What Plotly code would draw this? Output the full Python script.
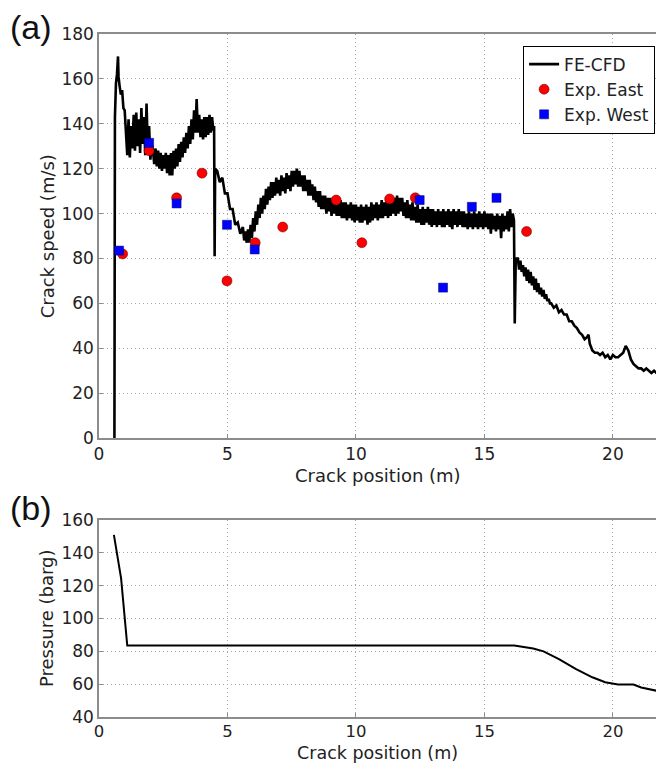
import plotly.graph_objects as go

# ---------------- data ----------------
# FE-CFD crack speed, crack position (m)
fe_x = ([0.60, 0.62, 0.66, 0.70, 0.74, 0.76, 0.80, 0.85, 0.90, 0.95, 1.00,
         1.05, 1.10, 1.15, 1.20, 1.25, 1.30, 1.35, 1.40, 1.45, 1.50,
         1.55, 1.60, 1.65, 1.70, 1.75, 1.80, 1.85, 1.90, 1.95, 2.00]
        + [2.05, 2.10, 2.15, 2.20, 2.25, 2.30, 2.35, 2.40, 2.45, 2.50,
           2.55, 2.60, 2.65, 2.70, 2.75, 2.80, 2.85, 2.90, 2.95, 3.00,
           3.05, 3.10, 3.15, 3.20, 3.25, 3.30, 3.35, 3.40, 3.45, 3.50,
           3.55, 3.60, 3.65, 3.70, 3.75, 3.80, 3.85, 3.90, 3.95, 4.00,
           4.05, 4.10, 4.15, 4.20, 4.25, 4.30, 4.35, 4.40, 4.45]
        + [4.48, 4.50, 4.52, 4.6, 4.7, 4.8, 4.9, 5.0, 5.1, 5.2, 5.3, 5.4, 5.5]
        + [5.60, 5.65, 5.70, 5.75, 5.80, 5.85, 5.90, 5.95, 6.00, 6.05,
           6.10, 6.15, 6.20, 6.25, 6.30, 6.35, 6.40, 6.45, 6.50, 6.55,
           6.60, 6.65, 6.70, 6.75, 6.80, 6.85, 6.90, 6.95, 7.00, 7.05,
           7.10, 7.15, 7.20, 7.25, 7.30, 7.35, 7.40, 7.45, 7.50, 7.55,
           7.60, 7.65, 7.70, 7.75, 7.80, 7.85, 7.90, 7.95, 8.00, 8.05,
           8.10, 8.15, 8.20, 8.25, 8.30, 8.35, 8.40, 8.45, 8.50, 8.55,
           8.60, 8.65, 8.70, 8.75, 8.80, 8.85, 8.90, 8.95, 9.00, 9.05,
           9.10, 9.15, 9.20, 9.25, 9.30, 9.35, 9.40, 9.45, 9.50, 9.55,
           9.60, 9.65, 9.70, 9.75, 9.80, 9.85, 9.90, 9.95, 10.00, 10.05,
           10.10, 10.15, 10.20, 10.25, 10.30, 10.35, 10.40, 10.45, 10.50, 10.55,
           10.60, 10.65, 10.70, 10.75, 10.80, 10.85, 10.90, 10.95, 11.00, 11.05,
           11.10, 11.15, 11.20, 11.25, 11.30, 11.35, 11.40, 11.45, 11.50, 11.55,
           11.60, 11.65, 11.70, 11.75, 11.80, 11.85, 11.90, 11.95, 12.00, 12.05,
           12.10, 12.15, 12.20, 12.25, 12.30, 12.35, 12.40, 12.45, 12.50, 12.55,
           12.60, 12.65, 12.70, 12.75, 12.80, 12.85, 12.90, 12.95, 13.00, 13.05,
           13.10, 13.15, 13.20, 13.25, 13.30, 13.35, 13.40, 13.45, 13.50, 13.55,
           13.60, 13.65, 13.70, 13.75, 13.80, 13.85, 13.90, 13.95, 14.00, 14.05,
           14.10, 14.15, 14.20, 14.25, 14.30, 14.35, 14.40, 14.45, 14.50, 14.55,
           14.60, 14.65, 14.70, 14.75, 14.80, 14.85, 14.90, 14.95, 15.00, 15.05,
           15.10, 15.15, 15.20, 15.25, 15.30, 15.35, 15.40, 15.45, 15.50, 15.55,
           15.60, 15.65, 15.70, 15.75, 15.80, 15.85, 15.90, 15.95, 16.00, 16.05,
           16.10, 16.15, 16.18, 16.22]
        + [16.30, 16.35, 16.40, 16.45, 16.50, 16.55, 16.60, 16.65, 16.70, 16.75,
           16.80, 16.85, 16.90, 16.95, 17.00, 17.05, 17.10, 17.15, 17.20, 17.25,
           17.30, 17.35, 17.40, 17.45, 17.50, 17.55]
        + [17.6, 17.7, 17.8, 17.9, 18.0, 18.1, 18.2, 18.3, 18.4, 18.5,
           18.6, 18.7, 18.8, 18.9, 19.0, 19.05, 19.1, 19.2, 19.3, 19.4, 19.5,
           19.6, 19.7, 19.8, 19.9, 20.0, 20.1, 20.2, 20.3, 20.4, 20.5,
           20.6, 20.7, 20.8, 20.9, 21.0, 21.1, 21.2, 21.3, 21.4, 21.5,
           21.6, 21.7, 21.8])
# FE-CFD crack speed (m/s)
fe_speed = ([0, 143, 158, 162, 170, 161, 157, 153, 155, 147, 146,
             138, 126, 142, 125, 139, 129, 144, 128, 145, 130,
             142, 127, 147, 131, 143, 126, 149, 129, 139, 124]
            + [131, 128, 122, 129, 121, 128, 120, 127, 119, 126,
               120, 127, 118, 126, 117, 127, 117, 128, 120, 129,
               121, 131, 123, 132, 125, 134, 127, 136, 129, 139,
               131, 142, 133, 146, 136, 151, 136, 144, 134, 142,
               133, 143, 134, 143, 135, 144, 136, 143, 137]
            + [139, 81, 120, 119, 114, 116, 109, 109, 102, 102, 95, 96, 91]
            + [94, 88, 92, 87, 93, 87, 95, 89, 98, 92,
               101, 95, 104, 98, 107, 100, 108, 102, 111, 104,
               112, 106, 114, 107, 114, 108, 116, 109, 115, 108,
               117, 110, 116, 109, 118, 111, 117, 110, 119, 112,
               119, 113, 120, 112, 119, 112, 117, 110, 117, 110,
               115, 108, 115, 108, 113, 106, 112, 105, 110, 103,
               110, 102, 108, 102, 108, 100, 107, 101, 107, 99,
               106, 100, 107, 99, 105, 99, 106, 98, 105, 98,
               105, 97, 104, 98, 105, 97, 104, 96, 104, 97,
               103, 96, 104, 96, 103, 97, 104, 95, 103, 96,
               105, 97, 104, 98, 105, 97, 104, 98, 106, 98,
               105, 99, 106, 98, 107, 99, 106, 100, 107, 99,
               108, 100, 107, 101, 107, 99, 105, 98, 106, 98,
               104, 97, 105, 97, 103, 96, 104, 96, 102, 95,
               103, 95, 102, 96, 103, 95, 102, 94, 102, 95,
               101, 94, 102, 95, 101, 94, 102, 94, 101, 95,
               102, 94, 101, 93, 102, 95, 101, 94, 102, 95,
               101, 94, 101, 94, 100, 93, 101, 94, 100, 93,
               101, 94, 100, 93, 101, 94, 100, 93, 101, 94,
               100, 93, 100, 91, 100, 93, 99, 92, 100, 93,
               99, 89, 100, 92, 99, 93, 101, 92, 102, 94,
               100, 97, 51, 80]
            + [80, 75, 79, 74, 77, 72, 76, 70, 75, 69,
               74, 68, 72, 66, 71, 65, 69, 64, 67, 63,
               66, 62, 64, 61, 62, 60]
            + [60, 58, 59, 56, 57, 55, 55, 52, 52, 50,
               49, 47, 46, 44, 45, 46, 42, 39, 38, 38, 37,
               38, 36, 37, 35, 37, 36, 36, 37, 38, 41,
               39, 35, 33, 32, 31, 31, 30, 31, 30, 29,
               30, 29, 29])

east_x = [0.92, 1.95, 3.02, 4.01, 4.98, 6.08, 7.15, 9.23, 10.23, 11.31, 12.31, 16.64]
east_speed = [82, 128, 107, 118, 70, 87, 94, 106, 87, 106.5, 107, 92]

west_x = [0.78, 1.95, 3.02, 4.98, 6.06, 12.48, 13.39, 14.51, 15.47]
west_speed = [83.5, 131.5, 104.5, 95, 84, 106, 67, 103, 107]

pres_x = [0.58, 0.86, 1.1, 2.0, 5.0, 10.0, 15.0, 16.16, 16.9, 17.3, 17.9, 18.55,
          19.2, 19.7, 20.2, 20.8, 21.1, 21.7]
pres_val = [151, 124.5, 83.5, 83.5, 83.5, 83.5, 83.5, 83.5, 81.7, 80, 75.3, 69.3,
            64.2, 61.2, 59.8, 59.8, 58, 56]

speed_ticks = [0, 20, 40, 60, 80, 100, 120, 140, 160, 180]
pos_ticks = [0, 5, 10, 15, 20]
pres_ticks = [40, 60, 80, 100, 120, 140, 160]

# ---------------- figure ----------------
FONT = "DejaVu Sans"
TXT = "#222222"
fig = go.Figure()

fig.add_trace(go.Scatter(x=fe_x, y=fe_speed, mode="lines", name="FE-CFD",
                         line=dict(color="black", width=2.6), xaxis="x", yaxis="y"))
fig.add_trace(go.Scatter(x=east_x, y=east_speed, mode="markers", name="Exp. East",
                         marker=dict(color="#ff0000", size=10, symbol="circle",
                                     line=dict(color="#550000", width=0.5)),
                         xaxis="x", yaxis="y"))
fig.add_trace(go.Scatter(x=west_x, y=west_speed, mode="markers", name="Exp. West",
                         marker=dict(color="#0000ff", size=9, symbol="square",
                                     line=dict(color="#000055", width=0.5)),
                         xaxis="x", yaxis="y"))
fig.add_trace(go.Scatter(x=pres_x, y=pres_val, mode="lines", showlegend=False,
                         line=dict(color="black", width=2), xaxis="x2", yaxis="y2"))

axis_common = dict(showline=True, mirror=True, linecolor="#8c8c8c", linewidth=1.5,
                   showgrid=True, gridcolor="#a8a8a8", griddash="1px,3px", gridwidth=1,
                   ticks="inside", ticklen=4, tickcolor="#8c8c8c", zeroline=False,
                   automargin=False,
                   tickfont=dict(family=FONT, size=17, color=TXT))
axis_bottom = dict(axis_common)
axis_bottom["tickfont"] = dict(family=FONT, size=16.5, color=TXT)

# the page body adds an 8 px offset; the figure is sized so the plot lands where the reference has it
fig.update_layout(
    width=656, height=756,
    margin=dict(l=91, r=1, t=26, b=47),
    paper_bgcolor="white", plot_bgcolor="white",
    font=dict(family=FONT, size=17, color=TXT),
    xaxis=dict(domain=[0, 1], range=[0, 21.95], anchor="y", tickvals=pos_ticks, **axis_common),
    yaxis=dict(domain=[0.4085, 1], range=[0, 180], anchor="x", tickvals=speed_ticks, **axis_common),
    xaxis2=dict(domain=[0, 1], range=[0, 21.95], anchor="y2", tickvals=pos_ticks,
                ticklabelstandoff=-2, **axis_bottom),
    yaxis2=dict(domain=[0, 0.2884], range=[40, 160], anchor="x2", tickvals=pres_ticks, **axis_common),
    legend=dict(x=0.986, xanchor="right", y=0.983, yanchor="top",
                bordercolor="black", borderwidth=1, bgcolor="white",
                font=dict(family=FONT, size=17, color=TXT),
                tracegroupgap=0, itemwidth=30),
    showlegend=True,
)

def note(text, x, y, size=18, angle=0, family=FONT, color=TXT, xanchor="center"):
    return dict(text=text, x=x, y=y, xref="paper", yref="paper", xanchor=xanchor,
                yanchor="middle", textangle=angle, showarrow=False,
                font=dict(family=family, size=size, color=color))

annotations = [
    note("(a)", -0.161, 1.0102, size=34, family="Liberation Sans", color="#111111", xanchor="left"),
    note("(b)", -0.161, 0.306, size=34, family="Liberation Sans", color="#111111", xanchor="left"),
    note("Crack speed (m/s)", -0.092, 0.704, angle=-90),
    note("Crack position (m)", 0.494, 0.353),
    note("Pressure (barg)", -0.092, 0.145, angle=-90),
    note("Crack position (m)", 0.494, -0.052, size=17.5),
]
fig.update_layout(annotations=annotations)

fig.write_html("out.html")
